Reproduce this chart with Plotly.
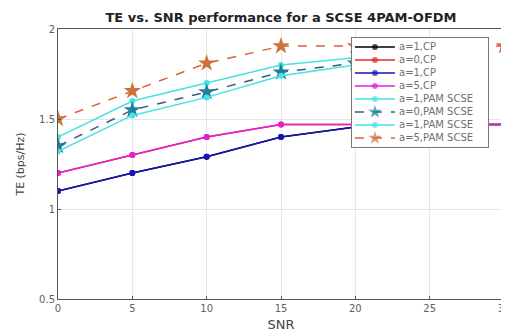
import plotly.graph_objects as go

# ---- data ----
snr = [0, 5, 10, 15, 20, 25, 30]
cp_a1_black = [1.10, 1.20, 1.29, 1.40, 1.455, 1.47, 1.47]
cp_a0_red = [1.20, 1.30, 1.40, 1.47, 1.47, 1.47, 1.47]
cp_a1_blue = [1.10, 1.20, 1.29, 1.40, 1.455, 1.47, 1.47]
cp_a5_magenta = [1.20, 1.30, 1.40, 1.47, 1.47, 1.47, 1.47]
scse_a1_cyan = [1.40, 1.60, 1.70, 1.80, 1.84, 1.86, None]
scse_a0_star = [1.35, 1.55, 1.65, 1.76, 1.81, 1.83, None]
scse_a1_cyan2 = [1.32, 1.52, 1.62, 1.74, 1.80, 1.82, None]
scse_a5_star = [1.50, 1.656, 1.81, 1.905, 1.905, 1.905, 1.905]

names = ["a=1,CP", "a=0,CP", "a=1,CP", "a=5,CP",
         "a=1,PAM SCSE", "a=0,PAM SCSE", "a=1,PAM SCSE", "a=5,PAM SCSE"]
x_ticks = [0, 5, 10, 15, 20, 25, 30]
y_ticks = [0.5, 1, 1.5, 2]
y_tick_text = ["0.5", "1", "1.5", "2"]

series = [cp_a1_black, cp_a0_red, cp_a1_blue, cp_a5_magenta,
          scse_a1_cyan, scse_a0_star, scse_a1_cyan2, scse_a5_star]
styles = [
    dict(color="#000000", dash="solid", symbol="circle", size=6, mcolor="#000000"),
    dict(color="#E8262A", dash="solid", symbol="circle", size=6, mcolor="#E8262A"),
    dict(color="#1515B8", dash="solid", symbol="circle", size=6, mcolor="#1515B8"),
    dict(color="#E020D8", dash="solid", symbol="circle", size=6, mcolor="#E020D8"),
    dict(color="#45E3E3", dash="solid", symbol="circle", size=6, mcolor="#45E3E3"),
    dict(color="#3C5A78", dash="dash", symbol="star", size=13, mcolor="#1F7D9E"),
    dict(color="#45E3E3", dash="solid", symbol="circle", size=6, mcolor="#45E3E3"),
    dict(color="#D9623A", dash="dash", symbol="star", size=13, mcolor="#D0703A"),
]

fig = go.Figure()

for y, name, st in zip(series, names, styles):
    fig.add_trace(go.Scatter(
        x=snr, y=y, name=name, mode="lines+markers", showlegend=False,
        line=dict(color=st["color"], width=1.5, dash=st["dash"]),
        marker=dict(symbol=st["symbol"], size=st["size"], color=st["mcolor"],
                    line=dict(width=0)),
        xaxis="x", yaxis="y",
    ))

# ---- custom legend drawn in an inset axis (legend box units = pixels) ----
LEG_W, LEG_H = 136, 109
row0, pitch = 9, 13
for i, (name, st) in enumerate(zip(names, styles)):
    yy = row0 + pitch * i
    fig.add_trace(go.Scatter(
        x=[3, 23, 43], y=[yy, yy, yy], mode="lines+markers", showlegend=False,
        hoverinfo="skip",
        line=dict(color=st["color"], width=1.5, dash=st["dash"]),
        marker=dict(symbol=st["symbol"], size=[0, 10 if st["symbol"] == "star" else 6, 0],
                    color=st["mcolor"], line=dict(width=0)),
        xaxis="x2", yaxis="y2",
    ))
    fig.add_annotation(x=45, y=yy, xref="x2", yref="y2", text=name, showarrow=False,
                       xanchor="left", yanchor="middle",
                       font=dict(family="DejaVu Sans", size=10, color="#707070"))

fig.add_shape(type="rect", xref="x2", yref="y2", x0=0, x1=LEG_W, y0=0, y1=LEG_H,
              fillcolor="white", line=dict(width=0), layer="below")

fig.update_layout(
    width=501, height=326,
    margin=dict(l=50, r=5, t=21, b=35, autoexpand=False),
    paper_bgcolor="white", plot_bgcolor="white",
    font=dict(family="DejaVu Sans", size=10, color="#606060"),
    title=dict(text="<b>TE vs. SNR performance for a SCSE 4PAM-OFDM</b>",
               xref="paper", x=0.5, xanchor="center", y=0.972, yanchor="middle",
               font=dict(family="DejaVu Sans", size=13, color="#222222"), automargin=False),
    xaxis=dict(range=[0, 30], tickvals=x_ticks,
               showgrid=True, gridcolor="#E6E6E6", gridwidth=1,
               showline=True, linecolor="#555555", linewidth=1, mirror=True,
               ticks="inside", ticklen=3, tickcolor="#555555", zeroline=False,
               automargin=False, ticklabeloverflow="allow",
               title=dict(text="SNR", font=dict(size=13, color="#444444"), standoff=6)),
    yaxis=dict(range=[0.5, 2], tickvals=y_ticks, ticktext=y_tick_text,
               showgrid=True, gridcolor="#E6E6E6", gridwidth=1,
               showline=True, linecolor="#555555", linewidth=1, mirror=True,
               ticks="inside", ticklen=3, tickcolor="#555555", zeroline=False,
               automargin=False,
               title=dict(text="TE (bps/Hz)", font=dict(size=11, color="#444444"), standoff=12)),
    xaxis2=dict(domain=[0.659, 0.964], range=[0, LEG_W], anchor="y2",
                showgrid=False, zeroline=False, showticklabels=False, ticks="",
                showline=True, mirror=True, linecolor="#777777", linewidth=1,
                fixedrange=True),
    yaxis2=dict(domain=[0.563, 0.967], range=[LEG_H, 0], anchor="x2",
                showgrid=False, zeroline=False, showticklabels=False, ticks="",
                showline=True, mirror=True, linecolor="#777777", linewidth=1,
                fixedrange=True),
    showlegend=False,
)

fig.write_html("out.html")
